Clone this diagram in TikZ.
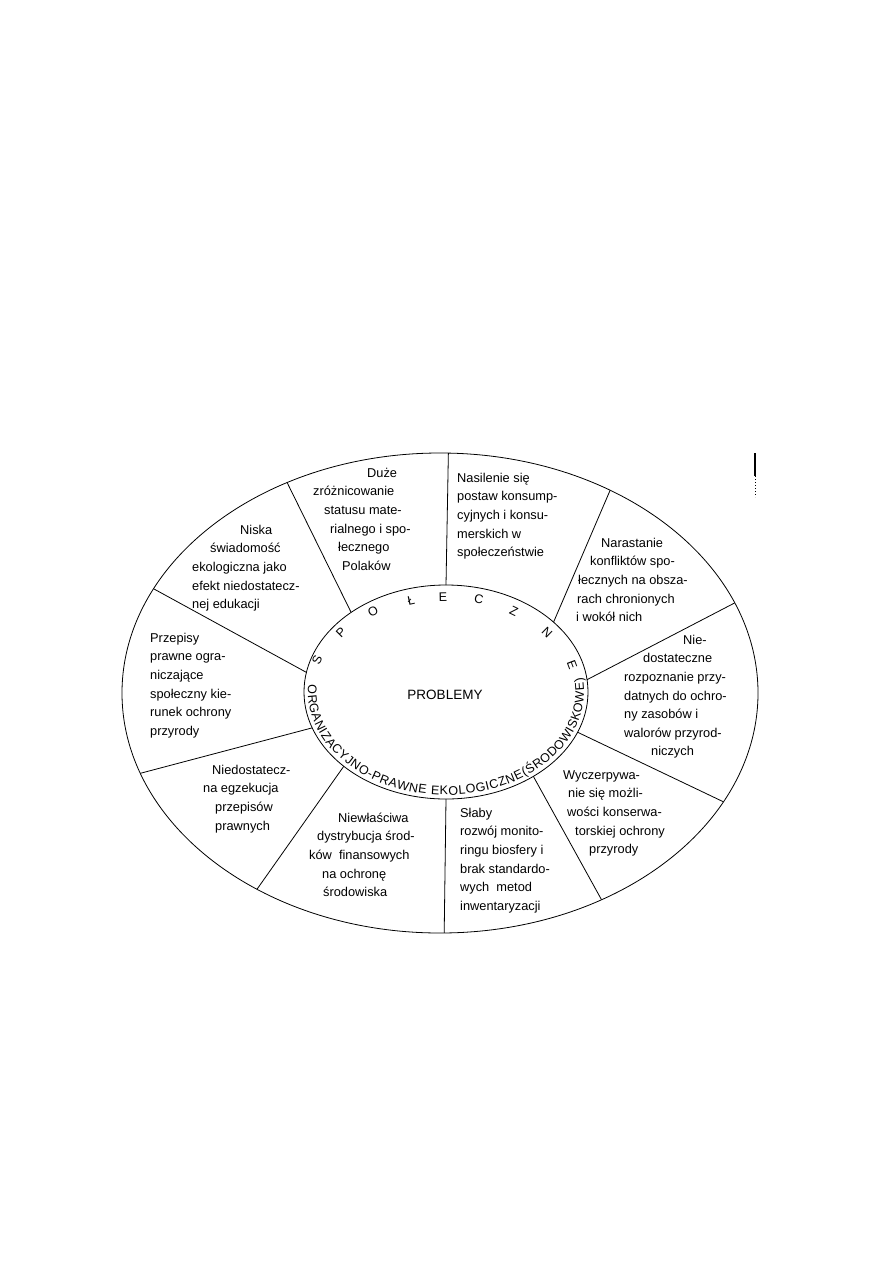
\documentclass[tikz,border=0pt]{standalone}
\usepackage{fontspec}
\setmainfont{Liberation Sans}
\usetikzlibrary{shapes.geometric,decorations.text}
\begin{document}
\begin{tikzpicture}[x=1pt,y=1pt,
  ln/.style={line width=0.8pt},
  blk/.style={font=\fontsize{12.8}{18.6}\selectfont, align=left, inner sep=0pt, anchor=north west},
  ring/.style={font=\fontsize{12.5}{15}\selectfont, inner sep=0pt},
  oval/.style={ellipse, draw, ln, inner sep=0pt, outer sep=0pt}]
\useasboundingbox (0,0) rectangle (893,-1263);
% ellipses
\node[oval, minimum width=636pt, minimum height=480pt] (out) at (440,-693) {};
\node[oval, minimum width=284pt, minimum height=214pt] (in) at (446,-692) {};
% dividers
\foreach \a/\b in {90.5/88.8, 140.5/126.6, 172.7/160.4, 195/195.2, 216.9/227.8,
                   270.5/271.2, 316/308.9, 343.4/339, 5.7/17.4, 33.3/50.7}
  \draw[ln] (in.\a) -- (out.\b);
% centre
\node[font=\fontsize{13.5}{16}\selectfont, inner sep=0pt] (title) at (445,-695) {PROBLEMY};
% upper ring letters
\foreach \l/\x/\y/\r [count=\i] in {S/317/660/66.4, P/341/633/45.3, O/373/611/27.1,
    Ł/411/601/12.3, E/443/597/1.0, C/479/599/-11.4, Z/514/611/-25.5,
    N/547/633/-44.2, E/572/665/-69.3}
  \node[ring, rotate=\r] (s\i) at (\x,-\y) {\l};
% lower ring text
\path[decorate, decoration={text along path, text align={fit to path},
   text={|\fontsize{12.5}{15}\selectfont|ORGANIZACYJNO-PRAWNE EKOLOGICZNE(ŚRODOWISKOWE)}}]
   (308.34,-684.81) arc[start angle=176, end angle=368, x radius=138, y radius=103];
% text blocks
\node[blk] (tA) at (313,-464) {\strut\hspace*{54pt}Duże\\zróżnicowanie\\\hspace*{11pt}statusu mate-\\\hspace*{17pt}rialnego i spo-\\\hspace*{25pt}łecznego\\\hspace*{29pt}Polaków};
\node[blk] (tB) at (192,-521) {\strut\hspace*{48pt}Niska\\\hspace*{18pt}świadomość\\ekologiczna jako\\efekt niedostatecz-\\nej edukacji};
\node[blk] (tC) at (457,-469) {\strut Nasilenie się\\postaw konsump-\\cyjnych i konsu-\\merskich w\\społeczeństwie};
\node[blk] (tD) at (576,-534) {\strut\hspace*{25pt}Narastanie\\\hspace*{14pt}konfliktów spo-\\\hspace*{2pt}łecznych na obsza-\\\hspace*{1pt}rach chronionych\\i wokół nich};
\node[blk] (tE) at (624,-631) {\strut\hspace*{59pt}Nie-\\\hspace*{19pt}dostateczne\\rozpoznanie przy-\\datnych do ochro-\\ny zasobów i\\walorów przyrod-\\\hspace*{27pt}niczych};
\node[blk] (tF) at (563,-766) {\strut Wyczerpywa-\\\hspace*{5pt}nie się możli-\\\hspace*{4pt}wości konserwa-\\\hspace*{12pt}torskiej ochrony\\\hspace*{26pt}przyrody};
\node[blk] (tG) at (460,-804) {\strut Słaby\\rozwój monito-\\ringu biosfery i\\brak standardo-\\wych~ metod\\inwentaryzacji};
\node[blk] (tH) at (309,-809) {\strut\hspace*{29pt}Niewłaściwa\\\hspace*{8pt}dystrybucja środ-\\ków~ finansowych\\\hspace*{13pt}na ochronę\\\hspace*{14pt}środowiska};
\node[blk] (tI) at (203,-761) {\strut\hspace*{9pt}Niedostatecz-\\na egzekucja\\\hspace*{12pt}przepisów\\\hspace*{12pt}prawnych};
\node[blk] (tJ) at (150,-629) {\strut Przepisy\\prawne ogra-\\niczające\\społeczny kie-\\runek ochrony\\przyrody};
% scan mark at right
\coordinate (m1) at (755,-453);
\coordinate (m2) at (755,-476);
\coordinate (m3) at (755,-497);
\draw[line width=1.6pt] (m1) -- (m2);
\draw[line width=1pt, dotted] (m2) -- (m3);
\end{tikzpicture}
\end{document}
